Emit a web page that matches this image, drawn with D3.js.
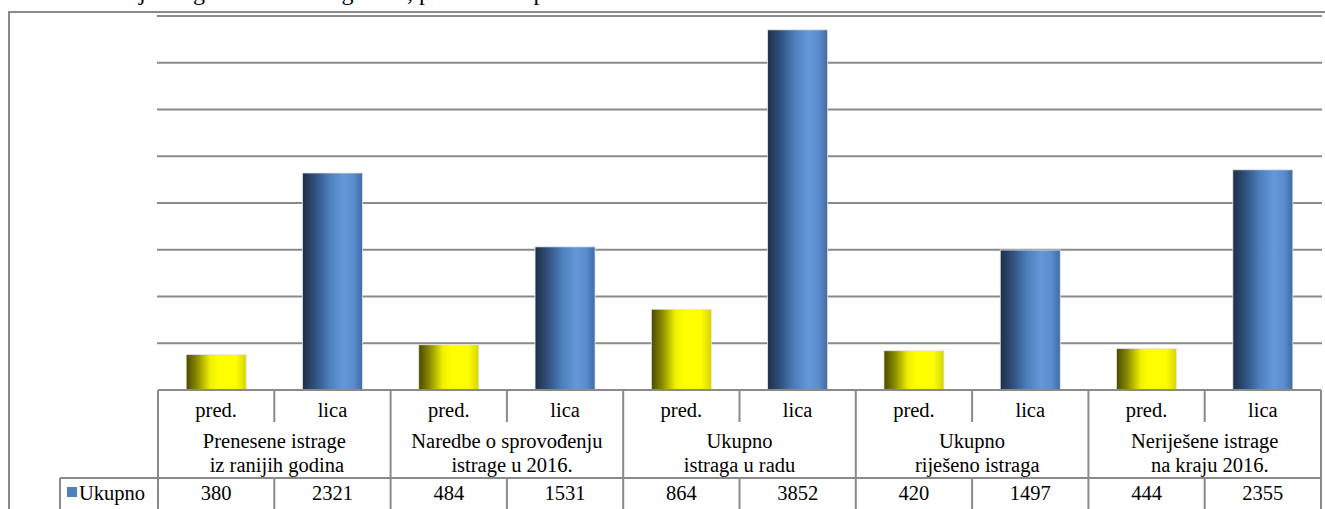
<!DOCTYPE html>
<html>
<head>
<meta charset="utf-8">
<script src="https://cdn.jsdelivr.net/npm/d3@7"></script>
<style>
  html, body { margin: 0; padding: 0; background: #fff; overflow: hidden; }
  body, svg, svg text { font-family: "Times New Roman", Times, "Liberation Serif", Tinos, "DejaVu Serif", "Noto Serif", serif; }
</style>
</head>
<body>
<svg width="1325" height="509"></svg>
<script>
// chart data
var columns = ['pred.', 'lica', 'pred.', 'lica', 'pred.', 'lica', 'pred.', 'lica', 'pred.', 'lica'];
var values = [380, 2321, 484, 1531, 864, 3852, 420, 1497, 444, 2355];
var groups = [
    ['Prenesene istrage', '\u00a0iz ranijih godina'],
    ['Naredbe o sprovođenju', '\u00a0\u00a0istrage u 2016.'],
    ['Ukupno', 'istraga u radu'],
    ['Ukupno', '\u00a0\u00a0riješeno istraga'],
    ['Neriješene istrage', '\u00a0\u00a0na kraju 2016.']
];
var seriesName = 'Ukupno';
var yTicks = [500, 1000, 1500, 2000, 2500, 3000, 3500, 4000];
var title = 'Broj istraga i lica u toku godine, prema vrsti predmeta';

var svg = d3.select('svg');
var grey = '#8a8a8a';

// layout
var plotLeft = 158, plotRight = 1321;
var plotTop = 16, plotBottom = 390;
var row1 = 422, row2 = 478, tableBottom = 520;
var legendLeft = 60;

var xScale = d3.scaleBand()
    .domain(d3.range(columns.length))
    .range([plotLeft, plotRight])
    .paddingInner(0)
    .paddingOuter(0);

var yScale = d3.scaleLinear()
    .domain([0, 4000])
    .range([plotBottom, plotTop]);

var barWidth = xScale.bandwidth() * 0.516;

// gradients for the bars
var defs = svg.append('defs');

function addGradient(id, stops) {
    var grad = defs.append('linearGradient')
        .attr('id', id)
        .attr('x1', '0%').attr('x2', '100%')
        .attr('y1', '0%').attr('y2', '0%');
    stops.forEach(function(s) {
        grad.append('stop').attr('offset', s[0]).attr('stop-color', s[1]);
    });
}

addGradient('yellowGrad', [['0%', '#4a4a00'], ['18%', '#8a8a00'], ['40%', '#f0f000'], ['55%', '#ffff00'], ['82%', '#ffff00'], ['100%', '#d6d600']]);
addGradient('blueGrad', [['0%', '#1d2f47'], ['20%', '#2f4f7a'], ['45%', '#4c7fbc'], ['68%', '#6598d8'], ['85%', '#5b8dcc'], ['100%', '#3e6ca6']]);

// title (only the bottom of it fits in the picture)
svg.append('text')
    .attr('x', 103)
    .attr('y', 0)
    .style('font-size', '24px')
    .attr('fill', '#000')
    .text(title);

// outer chart border
svg.append('path')
    .attr('d', 'M9,' + (tableBottom + 10) + 'V12H1330')
    .attr('fill', 'none')
    .attr('stroke', grey)
    .attr('stroke-width', 2);

// gridlines
svg.append('g')
    .selectAll('line')
    .data(yTicks)
    .enter()
    .append('line')
    .attr('x1', plotLeft - 1)
    .attr('x2', plotRight + 1)
    .attr('y1', function(d) { return yScale(d); })
    .attr('y2', function(d) { return yScale(d); })
    .attr('stroke', grey)
    .attr('stroke-width', 2);

// bars
svg.append('g')
    .selectAll('rect')
    .data(values)
    .enter()
    .append('rect')
    .attr('x', function(d, i) { return xScale(i) + (xScale.bandwidth() - barWidth) / 2; })
    .attr('y', function(d) { return yScale(d); })
    .attr('width', barWidth)
    .attr('height', function(d) { return yScale(0) - yScale(d); })
    .attr('fill', function(d, i) { return i % 2 === 0 ? 'url(#yellowGrad)' : 'url(#blueGrad)'; })
    .attr('stroke', '#e6e6e6')
    .attr('stroke-width', 0.8);

// data table lines
var table = svg.append('g')
    .attr('stroke', grey)
    .attr('stroke-width', 2);

table.append('line')
    .attr('x1', plotLeft).attr('x2', plotRight)
    .attr('y1', plotBottom).attr('y2', plotBottom);

table.append('line')
    .attr('x1', legendLeft).attr('x2', plotRight)
    .attr('y1', row2).attr('y2', row2);

table.append('line')
    .attr('x1', legendLeft).attr('x2', legendLeft)
    .attr('y1', row2).attr('y2', tableBottom);

d3.range(columns.length + 1).forEach(function(k) {
    var x = k < columns.length ? xScale(k) : plotRight;
    // category row
    table.append('line')
        .attr('x1', x).attr('x2', x)
        .attr('y1', plotBottom).attr('y2', row1);
    // group row only between groups
    if (k % 2 === 0) {
        table.append('line')
            .attr('x1', x).attr('x2', x)
            .attr('y1', row1).attr('y2', row2);
    }
    // values row
    table.append('line')
        .attr('x1', x).attr('x2', x)
        .attr('y1', row2).attr('y2', tableBottom);
});

// table texts
var texts = svg.append('g')
    .style('font-size', '20.5px')
    .attr('fill', '#000')
    .attr('text-anchor', 'middle');

texts.selectAll('.col')
    .data(columns)
    .enter()
    .append('text')
    .attr('x', function(d, i) { return xScale(i) + xScale.bandwidth() / 2; })
    .attr('y', 417)
    .text(function(d) { return d; });

groups.forEach(function(g, i) {
    var cx = xScale(i * 2) + xScale.bandwidth();
    texts.append('text')
        .attr('x', cx)
        .attr('y', 448)
        .text(g[0]);
    texts.append('text')
        .attr('x', cx)
        .attr('y', 472)
        .text(g[1]);
});

texts.selectAll('.val')
    .data(values)
    .enter()
    .append('text')
    .attr('x', function(d, i) { return xScale(i) + xScale.bandwidth() / 2; })
    .attr('y', 500)
    .text(function(d) { return d; });

// legend key
svg.append('rect')
    .attr('x', 67)
    .attr('y', 487)
    .attr('width', 10)
    .attr('height', 10)
    .attr('fill', '#4f81bd');

svg.append('text')
    .attr('x', 79)
    .attr('y', 500)
    .style('font-size', '20.5px')
    .attr('fill', '#000')
    .text(seriesName);
</script>
</body>
</html>
